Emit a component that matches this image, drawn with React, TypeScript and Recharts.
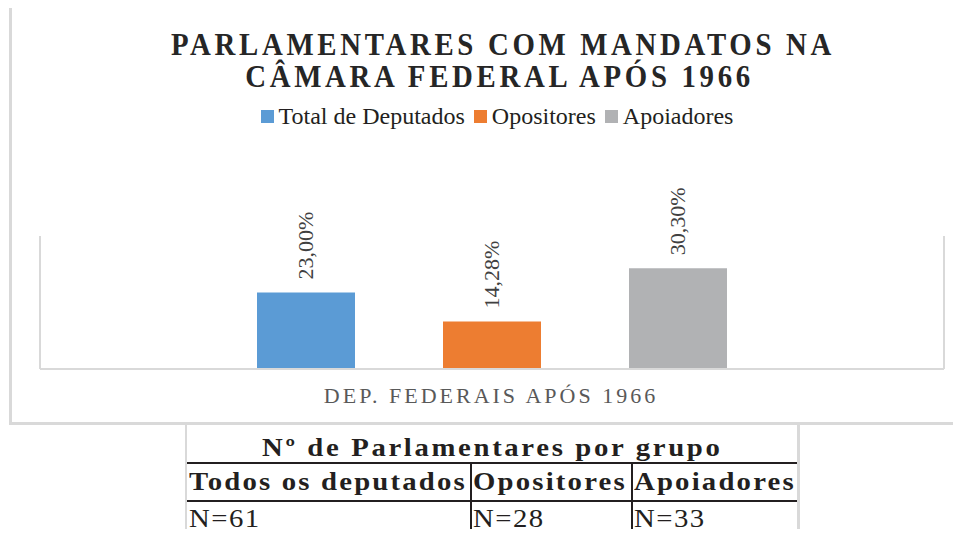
import React from 'react';
import { BarChart, Bar, XAxis, YAxis, Legend } from 'recharts';

const categories = ['DEP. FEDERAIS APÓS 1966'];
const seriesNames = ['Total de Deputados', 'Opositores', 'Apoiadores'];
const totalValues = [23.0];
const opositoresValues = [14.28];
const apoiadoresValues = [30.3];
const seriesColors = ['#5b9bd5', '#ed7d31', '#b1b2b4'];

const titleLines = ['PARLAMENTARES COM MANDATOS NA', 'CÂMARA FEDERAL APÓS 1966'];
const tableTitle = 'Nº de Parlamentares por grupo';
const tableHeaders = ['Todos os deputados', 'Opositores', 'Apoiadores'];
const tableCounts = ['N=61', 'N=28', 'N=33'];

const data = categories.map((name, i) => ({
  name,
  total: totalValues[i],
  opositores: opositoresValues[i],
  apoiadores: apoiadoresValues[i],
}));

const serif = '"Liberation Serif", "Times New Roman", Times, serif';

const fmtPct = (v: number) => v.toFixed(2).replace('.', ',') + '%';

const ValueLabel = (props: any) => {
  const { x, y, width, value } = props;
  const cx = x + width / 2;
  const cy = y - 13;
  return (
    <text
      x={cx}
      y={cy}
      transform={`rotate(-90, ${cx}, ${cy})`}
      textAnchor="start"
      dominantBaseline="central"
      fill="#404040"
      fontSize={22}
      style={{ fontFamily: serif }}
    >
      {fmtPct(value)}
    </text>
  );
};

const CategoryTick = (props: any) => {
  const { x, y, payload } = props;
  return (
    <text
      x={x - 1}
      y={y}
      dy={26}
      textAnchor="middle"
      fill="#595959"
      fontSize={22}
      letterSpacing={3}
      style={{ fontFamily: serif }}
    >
      {payload.value}
    </text>
  );
};

const LegendContent = (props: any) => {
  const items = [...(props.payload || [])].sort(
    (a: any, b: any) => seriesNames.indexOf(a.value) - seriesNames.indexOf(b.value)
  );
  return (
    <div style={{ display: 'flex', justifyContent: 'center', alignItems: 'center', fontFamily: serif, fontSize: 24, color: '#231f20', lineHeight: '26px' }}>
      {items.map((it: any) => (
        <span key={it.value} style={{ display: 'flex', alignItems: 'center', marginRight: 9 }}>
          <span style={{ width: 13, height: 13, background: it.color, display: 'inline-block', marginRight: 5 }} />
          {it.value}
        </span>
      ))}
    </div>
  );
};

const darkLine = '#231f20';
const grayLine = '#d9d9d9';
const colLeft = [189, 473, 634];

const stretched = (scale: number, origin: string): React.CSSProperties => ({
  display: 'inline-block',
  transform: `scaleX(${scale})`,
  transformOrigin: origin,
});

export default function App() {
  return (
    <div style={{ position: 'relative', width: 961, height: 537, margin: -8, background: '#fff', overflow: 'hidden', fontFamily: serif }}>
      {/* chart frame */}
      <div style={{ position: 'absolute', left: 9, top: 4, width: 960, height: 421, border: `3px solid ${grayLine}`, boxSizing: 'border-box' }} />

      {titleLines.map((t, i) => (
        <div
          key={t}
          style={{ position: 'absolute', left: 0, top: 28 + i * 32, width: [1006, 1000][i], height: 32, textAlign: 'center', fontSize: 32, fontWeight: 'bold', lineHeight: '32px', letterSpacing: 4.1, color: '#262626', whiteSpace: 'nowrap' }}
        >
          <span style={stretched(0.9, 'center')}>{t}</span>
        </div>
      ))}

      <div style={{ position: 'absolute', left: 0, top: 0 }}>
        <BarChart
          width={961}
          height={425}
          data={data}
          margin={{ top: 236, right: 0, left: 0, bottom: 0 }}
          barSize={98}
          barGap={88}
        >
          <XAxis
            dataKey="name"
            stroke={grayLine}
            strokeWidth={2}
            tickLine={false}
            height={56}
            tick={<CategoryTick />}
            interval={0}
          />
          <YAxis yAxisId="left" domain={[0, 40]} width={40} tick={false} tickLine={false} stroke={grayLine} strokeWidth={2} />
          <YAxis yAxisId="right" orientation="right" domain={[0, 40]} width={17} tick={false} tickLine={false} stroke={grayLine} strokeWidth={2} />
          <Legend verticalAlign="middle" content={<LegendContent />} wrapperStyle={{ top: 103, left: 0, width: 1003 }} />
          <Bar yAxisId="left" dataKey="total" name={seriesNames[0]} fill={seriesColors[0]} isAnimationActive={false} label={<ValueLabel />} />
          <Bar yAxisId="left" dataKey="opositores" name={seriesNames[1]} fill={seriesColors[1]} isAnimationActive={false} label={<ValueLabel />} />
          <Bar yAxisId="left" dataKey="apoiadores" name={seriesNames[2]} fill={seriesColors[2]} isAnimationActive={false} label={<ValueLabel />} />
        </BarChart>
      </div>

      {/* table under the chart */}
      <div style={{ position: 'absolute', left: 185, top: 425, width: 615, height: 120, borderLeft: `2px solid ${grayLine}`, borderRight: `3px solid ${grayLine}`, boxSizing: 'border-box' }} />
      <div style={{ position: 'absolute', left: 187, top: 462, width: 610, height: 2, background: darkLine }} />
      <div style={{ position: 'absolute', left: 187, top: 500, width: 610, height: 2, background: darkLine }} />
      <div style={{ position: 'absolute', left: 470, top: 462, width: 2, height: 80, background: darkLine }} />
      <div style={{ position: 'absolute', left: 631, top: 462, width: 2, height: 80, background: darkLine }} />

      <div style={{ position: 'absolute', left: 187, top: 435, width: 610, textAlign: 'center', fontSize: 25, lineHeight: '25px', fontWeight: 'bold', letterSpacing: 2.3, color: darkLine, whiteSpace: 'nowrap' }}>
        <span style={stretched(1.15, 'center')}>{tableTitle}</span>
      </div>
      {tableHeaders.map((h, i) => (
        <div key={h} style={{ position: 'absolute', left: colLeft[i], top: 469, fontSize: 25, lineHeight: '25px', fontWeight: 'bold', letterSpacing: 1.9, color: darkLine, whiteSpace: 'nowrap' }}>
          <span style={stretched(1.15, 'left')}>{h}</span>
        </div>
      ))}
      {tableCounts.map((c, i) => (
        <div key={c} style={{ position: 'absolute', left: colLeft[i], top: 506, fontSize: 25, lineHeight: '25px', letterSpacing: 1.3, color: darkLine, whiteSpace: 'nowrap' }}>
          <span style={stretched(1.15, 'left')}>{c}</span>
        </div>
      ))}
    </div>
  );
}
